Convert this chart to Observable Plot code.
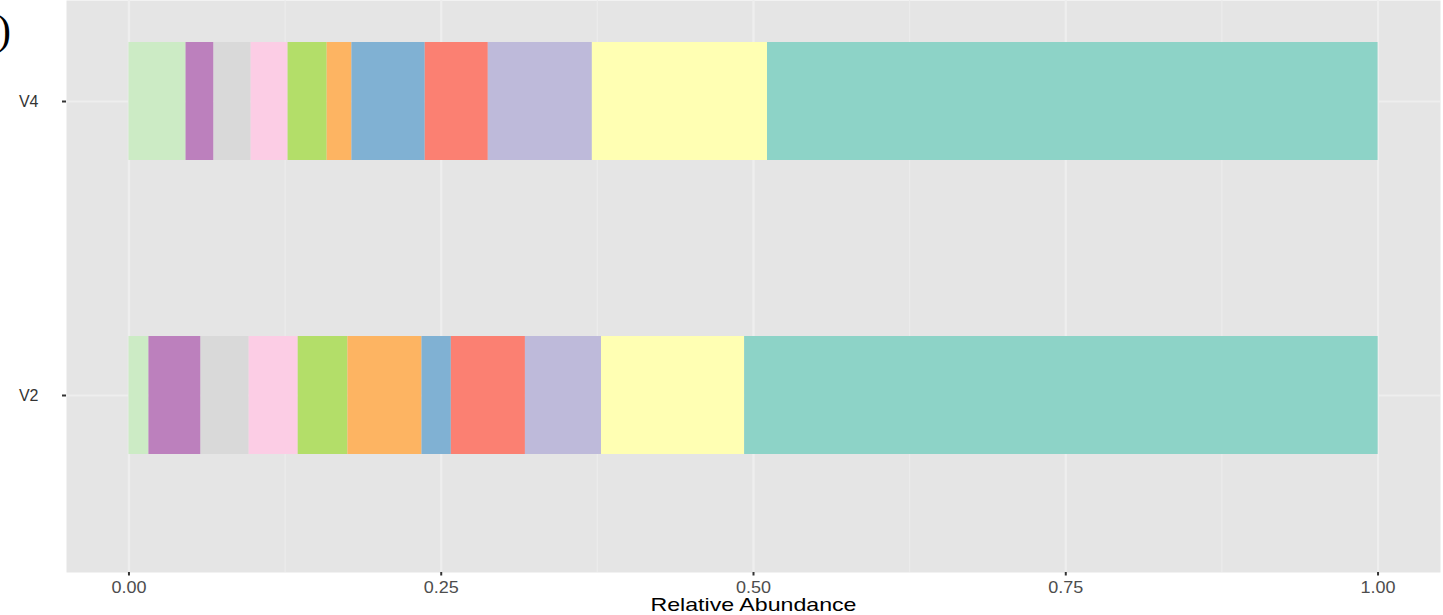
<!DOCTYPE html>
<html>
<head>
<meta charset="utf-8">
<script src="https://cdn.jsdelivr.net/npm/d3@7"></script>
<script src="https://cdn.jsdelivr.net/npm/@observablehq/plot@0.6"></script>
<style>
  html, body { margin: 0; padding: 0; background: #ffffff; }
  #chart { width: 1443px; height: 615px; overflow: hidden; }
</style>
</head>
<body>
<div id="chart"></div>
<script>
// Samples (top to bottom)
const samples = ["V4", "V2"];
// Taxa in stacking order (left to right)
const taxa = ["Taxon 11", "Taxon 10", "Taxon 9", "Taxon 8", "Taxon 7", "Taxon 6",
              "Taxon 5", "Taxon 4", "Taxon 3", "Taxon 2", "Taxon 1"];
// Fill colours for taxa (ColorBrewer Set3)
const taxaColors = ["#CCEBC5", "#BC80BD", "#D9D9D9", "#FCCDE5", "#B3DE69", "#FDB462",
                    "#80B1D3", "#FB8072", "#BEBADA", "#FFFFB3", "#8DD3C7"];
// Relative abundances (same order as taxa)
const valuesV4 = [0.0457, 0.0224, 0.0297, 0.0296, 0.0313, 0.0198, 0.0587, 0.0505, 0.0833, 0.1402, 0.4888];
const valuesV2 = [0.0160, 0.0417, 0.0385, 0.0393, 0.0398, 0.0593, 0.0235, 0.0593, 0.0609, 0.1146, 0.5072];
// Axis ticks
const majorTicks = [0, 0.25, 0.5, 0.75, 1];
const minorTicks = [0.125, 0.375, 0.625, 0.875];
const xTitle = "Relative Abundance";

const data = [];
taxa.forEach((t, i) => data.push({sample: "V4", taxon: t, value: valuesV4[i]}));
taxa.forEach((t, i) => data.push({sample: "V2", taxon: t, value: valuesV2[i]}));

const font = "'Liberation Sans', Arial, Helvetica, sans-serif";

const plot = Plot.plot({
  width: 1443,
  height: 615,
  marginLeft: 66,
  marginRight: 3,
  marginTop: 0,
  marginBottom: 43,
  style: {fontFamily: font, background: "#ffffff", overflow: "hidden"},
  x: {domain: [-0.05, 1.05]},
  y: {type: "band", domain: samples, range: [-76.4, 571.5], paddingInner: 0.5986, paddingOuter: 0.3997, align: 0.5},
  color: {domain: taxa, range: taxaColors},
  marks: [
    Plot.frame({fill: "#E5E5E5", stroke: null}),
    Plot.gridX(minorTicks, {stroke: "#ECECEC", strokeOpacity: 1, strokeWidth: 1.1}),
    Plot.gridX(majorTicks, {stroke: "#EEEEEE", strokeOpacity: 1, strokeWidth: 2.2}),
    Plot.gridY(samples, {stroke: "#EEEEEE", strokeOpacity: 1, strokeWidth: 2.2}),
    Plot.barX(data, Plot.stackX({x: "value", y: "sample", fill: "taxon", order: null, insetTop: 0, insetBottom: 0, insetLeft: 0, insetRight: 0})),
    Plot.axisX(majorTicks, {
      tickFormat: d3.format(".2f"), tickSize: 3.5, tickPadding: 5.6, fontSize: 16,
      stroke: "#333333", strokeWidth: 2, fill: "#4D4D4D", label: null
    }),
    Plot.axisY(samples, {
      tickSize: 4, tickPadding: 24, fontSize: 16, stroke: "#333333", strokeWidth: 2,
      fill: "#333333", label: null
    }),
    Plot.text([xTitle], {frameAnchor: "bottom", dy: 38.5, fontSize: 18.5, fill: "#000000", fontFamily: font})
  ]
});

document.getElementById("chart").appendChild(plot);

// The reference glyphs are slightly wider than the installed font: stretch the labels to match
d3.select(plot).selectAll('g[aria-label="x-axis tick label"] text')
  .attr("textLength", 35).attr("lengthAdjust", "spacingAndGlyphs");
d3.select(plot).selectAll('g[aria-label="text"] text')
  .attr("textLength", 206).attr("lengthAdjust", "spacingAndGlyphs");

// Partially visible panel tag at the top-left corner
d3.select(plot).append("text")
  .attr("x", 11).attr("y", 44)
  .attr("text-anchor", "end")
  .attr("font-family", "'Liberation Serif', 'Times New Roman', serif")
  .attr("font-size", 42)
  .attr("fill", "#000")
  .text(")");
</script>
</body>
</html>
